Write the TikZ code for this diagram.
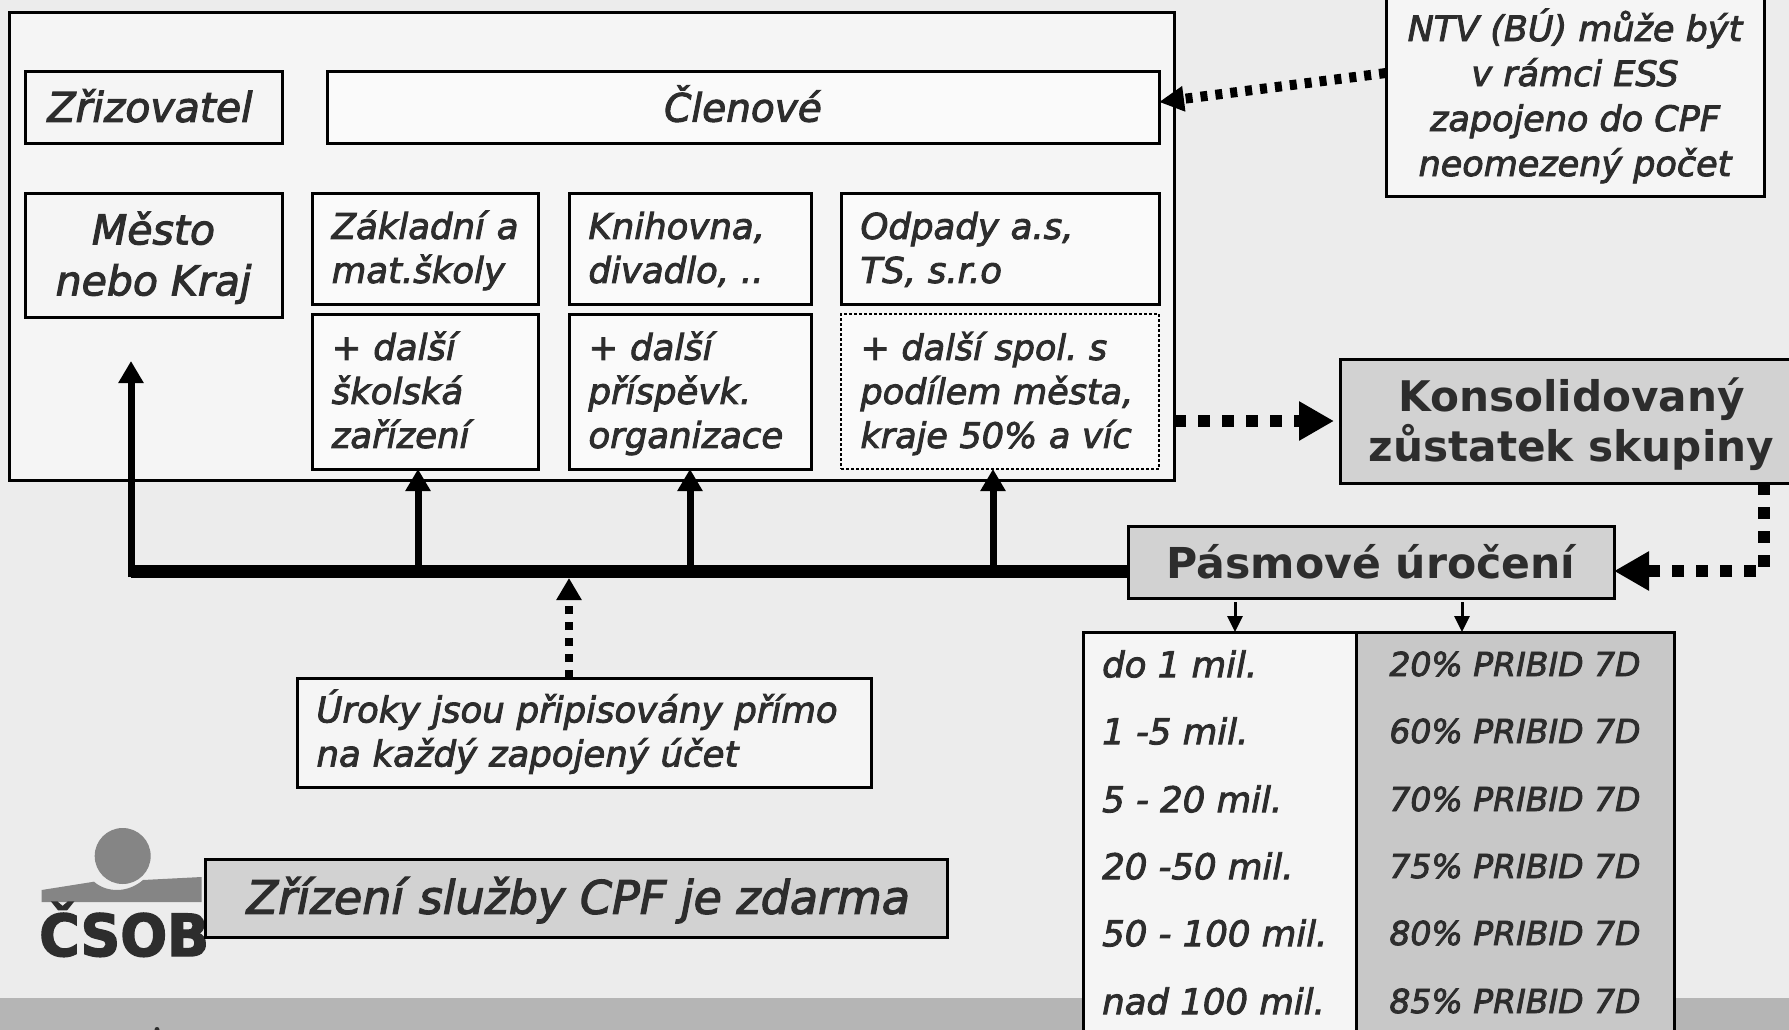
\documentclass[tikz,border=0pt]{standalone}
\usepackage{fontspec}
\setmainfont{DejaVu Sans}[ItalicFeatures={FakeBold=2.6}]
\newfontfamily\logofont{DejaVu Sans Bold}[FakeBold=2.5,FakeStretch=0.95]
\usetikzlibrary{arrows.meta,calc}
\definecolor{ink}{HTML}{2D2D2D}
\definecolor{bgc}{HTML}{ECECEC}
\definecolor{band}{HTML}{B5B5B5}
\definecolor{pale}{HTML}{F5F5F5}
\definecolor{white2}{HTML}{FAFAFA}
\definecolor{grey1}{HTML}{D2D2D2}
\definecolor{grey2}{HTML}{C8C8C8}
\definecolor{logo}{HTML}{858585}
\newcommand\tpa{\rule{0pt}{38pt}}
\newcommand\tpb{\rule{0pt}{45pt}}
\newcommand\tpc{\rule{0pt}{46.5pt}}
\frenchspacing
\tikzset{
  x=1pt,y=-1pt,
  base/.style={draw=black,line width=3pt,inner sep=0pt,outer sep=0pt,text=ink,rectangle},
  it/.style={font=\fontsize{35.5}{44}\selectfont\itshape},
  itbig/.style={font=\fontsize{39}{51}\selectfont\itshape},
  itwide/.style={font=\fontsize{41}{51}\selectfont\itshape},
  light/.style={base,fill=white2,it},
  big/.style={base,fill=white2,itbig},
  head/.style={base,fill=grey1,font=\fontsize{42.6}{50.5}\selectfont\bfseries},
  leftbox/.style={light,align=left,inner xsep=19.5pt},
  row/.style={text=ink,inner sep=0pt,font=\fontsize{33}{40}\selectfont\itshape},
  rowl/.style={row,font=\fontsize{35.5}{40}\selectfont\itshape},
  bus/.style={line width=13pt,draw=black},
  riser/.style={line width=7pt,draw=black,-{Triangle[length=22pt,width=24pt]}},
  dots/.style={line width=8pt,draw=black,dash pattern=on 8pt off 8pt,-{Triangle[length=22pt,width=24pt]}},
  fat/.style={line width=12pt,draw=black,dash pattern=on 12pt off 12pt,-{Triangle[length=35pt,width=37pt]}},
  thin/.style={line width=3pt,draw=black,-{Triangle[length=16pt,width=15pt]}},
}
\begin{document}
\begin{tikzpicture}
\useasboundingbox (0,0) rectangle (1789,1030);
\clip (0,0) rectangle (1789,1030);
\fill[bgc] (0,0) rectangle (1789,1030);
\fill[band] (0,998) rectangle (1789,1030);
\fill[ink] (157,1029.5) circle[radius=2.5];
% main frame and members
\node[base,fill=pale,minimum width=1165pt,minimum height=467.5pt] (main) at (591.5,246.25) {};
\node[base,fill=pale,itwide,minimum width=257pt,minimum height=72pt] (zriz) at (153.5,108) {\hspace*{-7pt}\raisebox{5pt}{Zřizovatel}};
\node[big,minimum width=832pt,minimum height=72pt] (clen) at (743,108) {\raisebox{9pt}{Členové}};
\node[base,fill=pale,itwide,minimum width=257pt,minimum height=124pt,align=center] (mesto) at (153.5,255) {\tpb Město\\nebo Kraj\strut};
\node[leftbox,text width=187.5pt,minimum height=111pt] (zakl) at (425.5,248.5) {\tpa Základní a\\mat.školy\strut};
\node[leftbox,text width=187.5pt,minimum height=155pt] (dalsiA) at (425.5,391.5) {\tpa + další\\školská\\zařízení\strut};
\node[leftbox,text width=203pt,minimum height=111pt] (knih) at (690,248.5) {\tpa Knihovna,\\divadlo, ..\strut};
\node[leftbox,text width=203pt,minimum height=155pt] (dalsiB) at (690,391.5) {\tpa + další\\příspěvk.\\organizace\strut};
\node[leftbox,text width=279pt,minimum height=111pt] (odpad) at (1000,248.5) {\tpa Odpady a.s,\\TS, s.r.o\strut};
\node[leftbox,font=\fontsize{35}{44}\selectfont\itshape,text width=279pt,minimum height=155pt,dotted,line width=1.6pt] (dalsiC) at (1000,391.5) {\tpa + další spol. s\\podílem města,\\kraje 50\% a víc\strut};
% right side boxes
\node[base,fill=pale,font=\fontsize{35}{45}\selectfont\itshape,align=center,minimum width=378pt,minimum height=201.5pt] (ntv) at (1575,95.75) {\rule{0pt}{39pt}NTV (BÚ) může být\\v rámci ESS\\zapojeno do CPF\\neomezený počet\strut};
\node[head,font=\fontsize{42.2}{50.5}\selectfont\bfseries,align=center,minimum width=460pt,minimum height=124pt] (kons) at (1570,421) {\hspace*{3pt}\tpc Konsolidovaný\\\hspace*{3pt}zůstatek skupiny\strut};
\node[head,minimum width=486pt,minimum height=72pt] (pasmo) at (1371,562) {Pásmové úročení};
% table
\node[base,fill=pale,minimum width=273pt,minimum height=428pt] (tabL) at (1219.5,846) {};
\node[base,fill=grey2,minimum width=318pt,minimum height=428pt] (tabR) at (1515,846) {};
\foreach \n/\y/\a/\b in {1/664/do 1 mil./20,2/731/1 -5 mil./60,3/799/5 - 20 mil./70,4/866/20 -50 mil./75,5/933/50 - 100 mil./80,6/1001/nad 100 mil./85}{
  \node[rowl,anchor=west] (la\n) at (1102,\y) {\a};
  \node[row] (ra\n) at (1515,\y) {\b\% PRIBID 7D};
}
% lower boxes
\node[base,fill=pale,it,text width=535pt,inner xsep=19.5pt,align=left,minimum height=109pt] (uroky) at (584,732.5) {\rule{0pt}{37pt}Úroky jsou připisovány přímo\\na každý zapojený účet\strut};
% logo
\fill[logo] (41.7,890) -- (94,881.7) .. controls (100,887) and (108,890) .. (117,890) .. controls (127,890) and (136,886) .. (143,880) -- (201.7,877) -- (201.7,902) -- (41.7,902) -- cycle;
\fill[bgc] (122.7,856) circle[radius=31];
\fill[logo] (122.7,856) circle[radius=28];
\node[inner sep=0pt,anchor=base west,text=ink,font=\fontsize{58}{58}\logofont] (csob) at (39,956) {ČSOB};
\node[base,fill=grey1,font=\fontsize{46}{50}\selectfont\itshape,minimum width=741.4pt,minimum height=78pt] (zdarma) at (576.3,898) {\hspace*{4pt}\rule{0pt}{41pt}Zřízení služby CPF je zdarma};
% connectors
\coordinate (busR) at ([yshift=-9pt]pasmo.west);
\coordinate (busL) at (131,571);
\coordinate (mestoTip) at (131,361);
\coordinate (pasS) at ([yshift=-4pt]pasmo.south);
\draw[bus] (busR) -- (busL);
\draw[riser] (131,577) -- (mestoTip);
\draw[riser] ([xshift=-7.5pt]dalsiA.south |- busL) -- ([xshift=-7.5pt]dalsiA.south);
\draw[riser] (dalsiB.south |- busL) -- (dalsiB.south);
\draw[riser] ([xshift=-7pt]dalsiC.south |- busL) -- ([xshift=-7pt]dalsiC.south);
\draw[dots] ([xshift=-15pt]uroky.north) -- ([xshift=-15pt,yshift=-7pt]uroky.north |- busL);
\draw[dots,line width=10pt,dash pattern=on 7pt off 8pt,-{Triangle[length=25pt,width=24pt]}] ([yshift=22.75pt]ntv.west) -- ([yshift=6pt]clen.east);
\draw[fat] (main.east |- kons.west) -- ([xshift=-6pt]kons.west);
\draw[fat] ([xshift=194pt]kons.south) |- ([yshift=-9pt]pasmo.east);
\draw[thin] ([xshift=15.5pt]tabL.north |- pasS) -- ([xshift=15.5pt]tabL.north);
\draw[thin] ([xshift=-53pt]tabR.north |- pasS) -- ([xshift=-53pt]tabR.north);
\end{tikzpicture}
\end{document}
